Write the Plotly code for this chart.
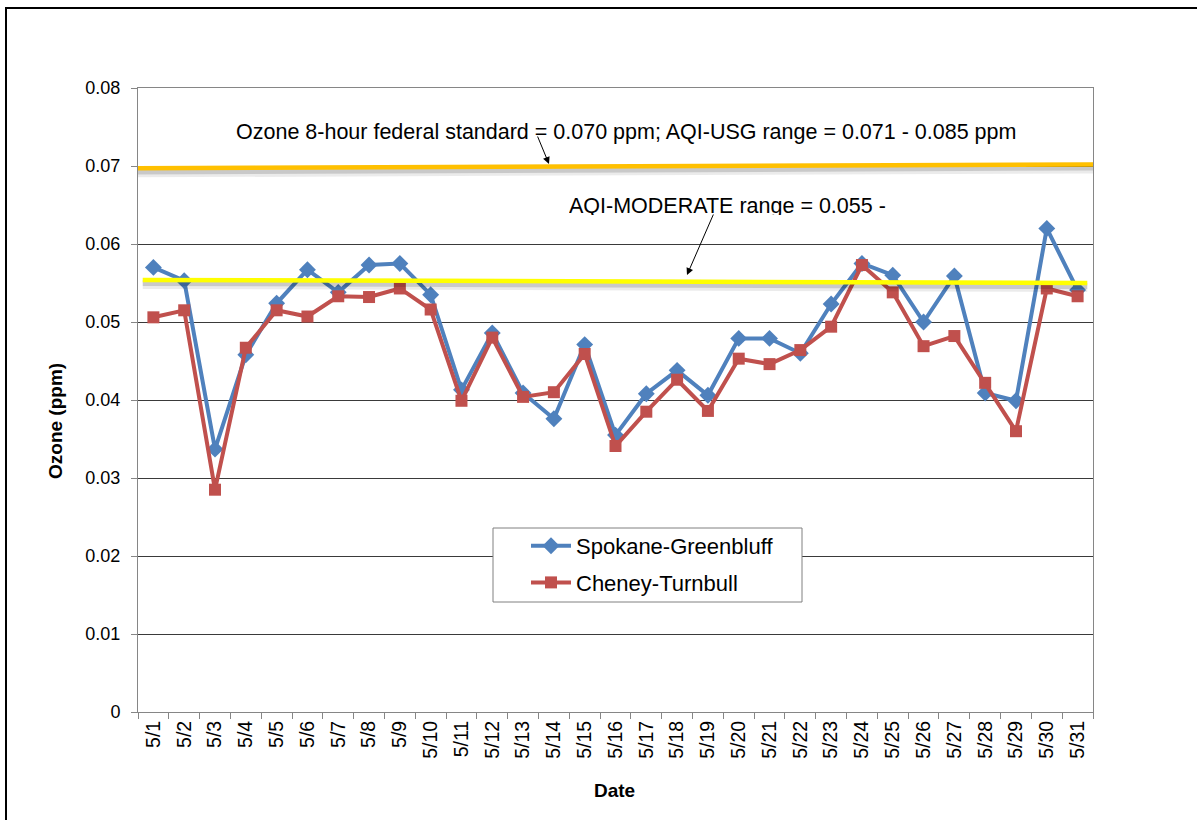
import plotly.graph_objects as go

dates = ["5/1", "5/2", "5/3", "5/4", "5/5", "5/6", "5/7", "5/8", "5/9", "5/10",
         "5/11", "5/12", "5/13", "5/14", "5/15", "5/16", "5/17", "5/18", "5/19", "5/20",
         "5/21", "5/22", "5/23", "5/24", "5/25", "5/26", "5/27", "5/28", "5/29", "5/30", "5/31"]

spokane = [0.0570, 0.0553, 0.0337, 0.0458, 0.0524, 0.0567, 0.0538, 0.0573, 0.0575, 0.0535,
           0.0413, 0.0486, 0.0409, 0.0376, 0.0471, 0.0355, 0.0408, 0.0438, 0.0406, 0.0479,
           0.0479, 0.0460, 0.0523, 0.0575, 0.0560, 0.0500, 0.0559, 0.0409, 0.0399, 0.0620, 0.0541]

cheney = [0.0506, 0.0515, 0.0285, 0.0467, 0.0515, 0.0507, 0.0533, 0.0532, 0.0543, 0.0516,
          0.0399, 0.0480, 0.0404, 0.0410, 0.0459, 0.0341, 0.0385, 0.0426, 0.0386, 0.0453,
          0.0446, 0.0464, 0.0494, 0.0573, 0.0538, 0.0469, 0.0482, 0.0422, 0.0360, 0.0543, 0.0533]

y_ticks = [0, 0.01, 0.02, 0.03, 0.04, 0.05, 0.06, 0.07, 0.08]
y_tick_text = ["0", "0.01", "0.02", "0.03", "0.04", "0.05", "0.06", "0.07", "0.08"]

federal_std = (0.0697, 0.0702)   # drawn line, left/right ends
moderate = (0.0554, 0.0550)

FONT = "Liberation Sans, Arial, sans-serif"

# plot area in page pixels
PL, PR, PT, PB = 138, 1093, 88, 712
PW, PH = PR - PL, PB - PT


def px(x):
    return (x - PL) / PW


def py(y):
    return (PB - y) / PH


fig = go.Figure()
fig.add_trace(go.Scatter(
    x=dates, y=spokane, mode="lines+markers", name="Spokane-Greenbluff",
    line=dict(color="#4F81BD", width=4),
    marker=dict(symbol="diamond", size=13, color="#4F81BD"),
    legendgroup="a"))
fig.add_trace(go.Scatter(
    x=dates, y=cheney, mode="lines+markers", name="Cheney-Turnbull",
    line=dict(color="#C0504D", width=4),
    marker=dict(symbol="square", size=12, color="#C0504D"),
    legendgroup="b"))

shapes = []
for (y0, y1), color, xa, xb in [(federal_std, "#FFC000", 0.0, 1.0),
                                (moderate, "#FFFF00", 0.005, 0.994)]:
    shapes.append(dict(type="line", xref="paper", yref="y", x0=xa, x1=xb,
                       y0=y0 - 0.00045, y1=y1 - 0.00045,
                       line=dict(color="rgba(0,0,0,0.08)", width=11), layer="above"))
    shapes.append(dict(type="line", xref="paper", yref="y", x0=xa, x1=xb,
                       y0=y0 - 0.00040, y1=y1 - 0.00040,
                       line=dict(color="rgba(0,0,0,0.14)", width=6), layer="above"))
    shapes.append(dict(type="line", xref="paper", yref="y", x0=xa, x1=xb,
                       y0=y0, y1=y1, line=dict(color=color, width=4.5), layer="above"))

# legend box
shapes.append(dict(type="rect", xref="paper", yref="paper",
                   x0=px(493), x1=px(802), y0=py(602), y1=py(528),
                   fillcolor="white", line=dict(color="#808080", width=1), layer="above"))
# outer frame
shapes.append(dict(type="rect", xref="paper", yref="paper",
                   x0=px(6), x1=px(1215), y0=py(835), y1=py(8),
                   line=dict(color="black", width=2), fillcolor="rgba(0,0,0,0)", layer="above"))

annotations = [
    dict(text="Ozone 8-hour federal standard = 0.070 ppm; AQI-USG range = 0.071 - 0.085 ppm",
         xref="paper", yref="paper", x=px(626), y=py(132),
         showarrow=False, font=dict(family=FONT, size=21.5, color="black"),
         xanchor="center", yanchor="middle"),
    dict(text="", xref="paper", yref="paper", x=px(549), y=py(164),
         ax=-12, ay=-29, showarrow=True, arrowhead=2, arrowsize=1.4, arrowwidth=1,
         arrowcolor="black"),
    dict(text="AQI-MODERATE range = 0.055 -",
         xref="paper", yref="paper", x=px(727), y=py(192),
         showarrow=False, font=dict(family=FONT, size=21.5, color="black"),
         xanchor="center", yanchor="top", height=21, valign="top"),
    dict(text="", xref="paper", yref="paper", x=px(687), y=py(275),
         ax=27, ay=-62, showarrow=True, arrowhead=2, arrowsize=1.4, arrowwidth=1,
         arrowcolor="black"),
    dict(text="<b>Ozone (ppm)</b>", xref="paper", yref="paper",
         x=px(55), y=py(421), textangle=-90, showarrow=False,
         font=dict(family=FONT, size=19, color="black"),
         xanchor="center", yanchor="middle"),
    dict(text="<b>Date</b>", xref="paper", yref="paper",
         x=px(614), y=py(790), showarrow=False,
         font=dict(family=FONT, size=19, color="black"),
         xanchor="center", yanchor="middle"),
]

fig.update_layout(
    width=1197, height=820,
    margin=dict(l=PL, r=1197 - PR, t=PT, b=820 - PB, autoexpand=False),
    paper_bgcolor="white", plot_bgcolor="white",
    font=dict(family=FONT, color="black"),
    showlegend=True,
    legend=dict(x=px(526), y=py(525), xanchor="left", yanchor="top",
                bgcolor="rgba(0,0,0,0)", borderwidth=0,
                font=dict(family=FONT, size=22, color="black"),
                tracegroupgap=5, itemwidth=40),
    shapes=shapes,
    annotations=annotations,
)

fig.update_xaxes(
    type="category", range=[-0.5, 30.5], tickson="boundaries",
    ticks="outside", ticklen=6, tickcolor="#868686",
    showline=True, linecolor="#868686", linewidth=1, mirror=True,
    showgrid=False, tickangle=-90,
    tickfont=dict(family=FONT, size=19.5, color="black"),
)
fig.update_yaxes(
    range=[0, 0.08], tickvals=y_ticks, ticktext=y_tick_text,
    ticks="outside", ticklen=6, tickcolor="#868686",
    showline=True, linecolor="#868686", linewidth=1, mirror=True,
    showgrid=True, gridcolor="#3a3a3a", gridwidth=1, zeroline=False,
    ticklabelstandoff=7,
    tickfont=dict(family=FONT, size=18, color="black"),
)

fig.write_html(
    "out.html",
    config={"displayModeBar": False},
    post_script="document.body.style.margin='0';document.body.style.overflow='hidden';",
)
